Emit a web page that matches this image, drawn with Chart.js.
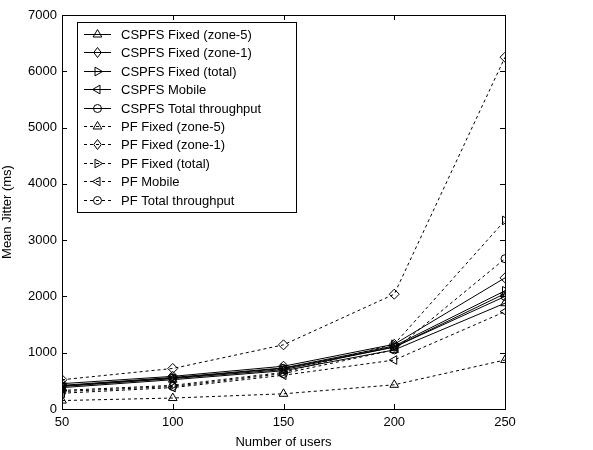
<!DOCTYPE html>
<html><head><meta charset="utf-8">
<script src="https://cdn.jsdelivr.net/npm/chart.js@4/dist/chart.umd.min.js"></script>
<style>html,body{margin:0;padding:0;background:#fff}#wrap{width:593px;height:450px}</style>
</head><body><div id="wrap"><canvas id="c" width="593" height="450"></canvas></div>
<script>
const users = [50, 100, 150, 200, 250];
const seriesNames = ["CSPFS Fixed (zone-5)","CSPFS Fixed (zone-1)","CSPFS Fixed (total)","CSPFS Mobile","CSPFS Total throughput","PF Fixed (zone-5)","PF Fixed (zone-1)","PF Fixed (total)","PF Mobile","PF Total throughput"];
const cspfsZone5 = [380, 520, 680, 1050, 1880];
const cspfsZone1 = [450, 580, 760, 1150, 2330];
const cspfsTotal = [420, 560, 730, 1120, 2100];
const cspfsMobile = [400, 540, 700, 1100, 2050];
const cspfsThroughput = [410, 550, 720, 1100, 2000];
const pfZone5 = [150, 195, 270, 430, 870];
const pfZone1 = [520, 720, 1140, 2040, 6250];
const pfTotal = [330, 420, 650, 1150, 3350];
const pfMobile = [280, 380, 600, 870, 1730];
const pfThroughput = [310, 400, 630, 1050, 2670];
const yTicks = [0,1000,2000,3000,4000,5000,6000,7000];
const xTicks = [50,100,150,200,250];

const values = [cspfsZone5,cspfsZone1,cspfsTotal,cspfsMobile,cspfsThroughput,pfZone5,pfZone1,pfTotal,pfMobile,pfThroughput];
const markers = [["triangle",0],["rectRot",0],["triangle",90],["triangle",-90],["circle",0]];
const datasets = values.map((v,i)=>{
  const m = markers[i%5];
  const dashed = i>=5;
  return {
    label: seriesNames[i],
    data: v.map((y,j)=>({x:users[j],y:y})),
    borderColor:'#000', borderWidth:1,
    borderDash: dashed?[3,3]:[],
    pointStyle:m[0], rotation:m[1], pointRadius: m[0]==='circle'?4:5,
    pointBorderColor:'#000', pointBackgroundColor:'rgba(0,0,0,0)', pointBorderWidth:1,
    tension:0, fill:false
  };
});

function drawMarker(ctx, style, rot, x, y, r){
  ctx.save();
  ctx.translate(x,y);
  ctx.rotate(rot*Math.PI/180);
  ctx.beginPath();
  if(style==='circle'){ ctx.arc(0,0,r,0,Math.PI*2); }
  else if(style==='rectRot'){ ctx.moveTo(0,-r);ctx.lineTo(r*0.75,0);ctx.lineTo(0,r);ctx.lineTo(-r*0.75,0);ctx.closePath(); }
  else { ctx.moveTo(0,-r);ctx.lineTo(r*0.87,r*0.5);ctx.lineTo(-r*0.87,r*0.5);ctx.closePath(); }
  ctx.setLineDash([]);
  ctx.lineWidth=1; ctx.strokeStyle='#000'; ctx.stroke();
  ctx.restore();
}

const framePlugin = {
  id:'frame',
  afterDraw(chart){
    const ctx=chart.ctx, a=chart.chartArea;
    const xs=chart.scales.x, ys=chart.scales.y;
    ctx.save();
    ctx.strokeStyle='#000'; ctx.lineWidth=1; ctx.setLineDash([]);
    ctx.strokeRect(Math.round(a.left)+0.5,Math.round(a.top)+0.5,Math.round(a.right-a.left),Math.round(a.bottom-a.top));
    ctx.beginPath();
    xTicks.forEach(t=>{const px=Math.round(xs.getPixelForValue(t))+0.5;
      ctx.moveTo(px,a.bottom);ctx.lineTo(px,a.bottom-5);ctx.moveTo(px,a.top);ctx.lineTo(px,a.top+5);});
    yTicks.forEach(t=>{const py=Math.round(ys.getPixelForValue(t))+0.5;
      ctx.moveTo(a.left,py);ctx.lineTo(a.left+5,py);ctx.moveTo(a.right,py);ctx.lineTo(a.right-5,py);});
    ctx.stroke();
    // legend
    const lx=77.5, ly=22.5, lw=219, lh=190;
    ctx.fillStyle='#fff'; ctx.fillRect(lx,ly,lw,lh);
    ctx.strokeRect(lx,ly,lw,lh);
    ctx.font='13px "Liberation Sans", Arial, sans-serif';
    ctx.textBaseline='middle'; ctx.fillStyle='#000';
    chart.data.datasets.forEach((d,i)=>{
      const y=Math.round(34+i*18.4)+0.5;
      ctx.beginPath(); ctx.setLineDash(d.borderDash); ctx.moveTo(84,y); ctx.lineTo(111,y); ctx.stroke();
      drawMarker(ctx,d.pointStyle,d.rotation,97.5,y,d.pointRadius);
      ctx.setLineDash([]);
      ctx.fillText(d.label,121,y+1);
    });
    ctx.restore();
  }
};

new Chart(document.getElementById('c'),{
  type:'line',
  data:{datasets},
  options:{
    responsive:false, animation:false,
    layout:{padding:{top:15,right:88,left:0,bottom:0}},
    plugins:{legend:{display:false},tooltip:{enabled:false}},
    scales:{
      x:{type:'linear',min:50,max:250,
        afterBuildTicks(s){s.ticks=xTicks.map(v=>({value:v}));},
        afterFit(s){s.height=41;},
        grid:{display:false,drawTicks:false}, border:{display:false},
        ticks:{color:'#000',padding:6,font:{family:'"Liberation Sans", Arial, sans-serif',size:13},maxRotation:0,callback:v=>String(v)},
        title:{display:true,text:'Number of users',color:'#000',padding:{top:0,bottom:0},font:{family:'"Liberation Sans", Arial, sans-serif',size:13}}
      },
      y:{type:'linear',min:0,max:7000,
        afterBuildTicks(s){s.ticks=yTicks.map(v=>({value:v}));},
        afterFit(s){s.width=62;},
        grid:{display:false,drawTicks:false}, border:{display:false},
        ticks:{color:'#000',padding:5,font:{family:'"Liberation Sans", Arial, sans-serif',size:13},callback:v=>String(v)},
        title:{display:true,text:'Mean Jitter (ms)',color:'#000',padding:{top:0,bottom:0},font:{family:'"Liberation Sans", Arial, sans-serif',size:13}}
      }
    }
  },
  plugins:[framePlugin]
});
</script></body></html>
